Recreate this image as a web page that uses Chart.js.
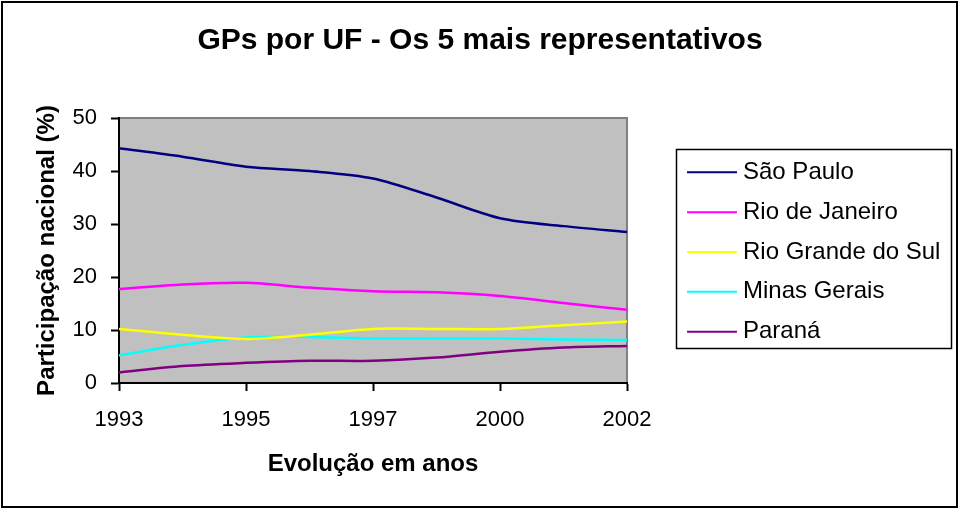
<!DOCTYPE html>
<html>
<head>
<meta charset="utf-8">
<script src="https://cdn.jsdelivr.net/npm/chart.js@4/dist/chart.umd.min.js"></script>
<style>
  html, body { margin: 0; padding: 0; background: #fff; }
  #wrap { width: 960px; height: 512px; position: relative; }
</style>
</head>
<body>
<div id="wrap"><canvas id="c" width="960" height="512"></canvas></div>
<script>
const chartTitle = 'GPs por UF - Os 5 mais representativos';
const years = ['1993', '1994', '1995', '1996', '1997', '1998', '2000', '2001', '2002'];
const shownYears = ['1993', '1995', '1997', '2000', '2002'];
const seriesNames = ['São Paulo', 'Rio de Janeiro', 'Rio Grande do Sul', 'Minas Gerais', 'Paraná'];
const saoPaulo      = [44.3, 42.7, 40.8, 40.0, 38.6, 35.0, 31.1, 29.6, 28.5];
const rioDeJaneiro  = [17.7, 18.6, 18.9, 18.0, 17.3, 17.1, 16.4, 15.1, 13.8];
const rioGrandeSul  = [10.2, 9.1, 8.3, 9.1, 10.2, 10.2, 10.2, 10.9, 11.6];
const minasGerais   = [5.2, 7.2, 8.6, 8.7, 8.4, 8.4, 8.4, 8.2, 8.1];
const parana        = [2.0, 3.2, 3.8, 4.2, 4.2, 4.8, 5.9, 6.7, 7.0];
const yTicks = [0, 10, 20, 30, 40, 50];
const colors = ['#000080', '#ff00ff', '#ffff00', '#00ffff', '#800080'];

const FONT = "'Liberation Sans', Arial, sans-serif";

const bgPlugin = {
  id: 'bg',
  beforeDraw(chart) {
    const { ctx, chartArea: a } = chart;
    ctx.save();
    ctx.fillStyle = '#ffffff';
    ctx.fillRect(0, 0, chart.width, chart.height);
    ctx.fillStyle = '#c0c0c0';
    ctx.fillRect(a.left, a.top, a.right - a.left, a.bottom - a.top);
    ctx.strokeStyle = '#808080';
    ctx.lineWidth = 2;
    ctx.beginPath();
    ctx.moveTo(a.left, a.top);
    ctx.lineTo(a.right, a.top);
    ctx.lineTo(a.right, a.bottom);
    ctx.stroke();
    ctx.restore();
  },
  afterDraw(chart) {
    const { ctx } = chart;
    ctx.save();
    // outer frame
    ctx.strokeStyle = '#000';
    ctx.lineWidth = 2;
    ctx.strokeRect(2, 2, 955, 505);
    // chart title
    ctx.fillStyle = '#000';
    ctx.font = 'bold 30px ' + FONT;
    ctx.textAlign = 'center';
    ctx.textBaseline = 'alphabetic';
    ctx.fillText(chartTitle, 480, 49);
    // legend
    const lx = 676, ly = 149, lw = 275, lh = 199;
    ctx.lineWidth = 1.5;
    ctx.strokeRect(lx + 0.5, ly + 0.5, lw, lh);
    ctx.font = '24px ' + FONT;
    ctx.textAlign = 'left';
    ctx.textBaseline = 'middle';
    chart.data.datasets.forEach((ds, i) => {
      const y = 172.3 + i * 39.85;
      ctx.strokeStyle = ds.borderColor;
      ctx.lineWidth = 2;
      ctx.beginPath();
      ctx.moveTo(687, y);
      ctx.lineTo(737, y);
      ctx.stroke();
      ctx.fillText(ds.label, 743, y);
    });
    ctx.restore();
  }
};

const seriesData = [saoPaulo, rioDeJaneiro, rioGrandeSul, minasGerais, parana];

new Chart(document.getElementById('c'), {
  type: 'line',
  data: {
    labels: years,
    datasets: seriesNames.map((name, i) => ({
      label: name,
      data: seriesData[i],
      borderColor: colors[i],
      backgroundColor: colors[i],
      borderWidth: 2.5,
      pointRadius: 0,
      tension: 0.3,
      fill: false
    }))
  },
  options: {
    responsive: false,
    animation: false,
    layout: { padding: { left: 0, right: 333, top: 118, bottom: 0 } },
    plugins: {
      legend: { display: false },
      tooltip: { enabled: false },
      title: { display: false }
    },
    scales: {
      x: {
        type: 'category',
        offset: false,
        border: { color: '#000', width: 2 },
        grid: {
          drawOnChartArea: false,
          tickLength: 8,
          tickWidth: 2,
          tickColor: (c) => shownYears.includes(years[c.index]) ? '#000' : 'rgba(0,0,0,0)'
        },
        ticks: {
          autoSkip: false,
          maxRotation: 0,
          color: '#000',
          padding: 16,
          font: { family: FONT, size: 22 },
          callback: function (v, i) { const l = years[i]; return shownYears.includes(l) ? l : ''; }
        },
        title: {
          display: true,
          text: 'Evolução em anos',
          color: '#000',
          font: { family: FONT, size: 24, weight: 'bold' },
          padding: { top: 0, bottom: 33 }
        },
        afterFit(scale) { scale.height = 129; }
      },
      y: {
        min: 0,
        max: 50,
        border: { color: '#000', width: 2 },
        grid: { drawOnChartArea: false, tickLength: 8, tickWidth: 2, tickColor: '#000' },
        afterBuildTicks(scale) { scale.ticks = yTicks.map(v => ({ value: v })); },
        ticks: {
          color: '#000',
          padding: 14,
          font: { family: FONT, size: 22 }
        },
        title: {
          display: true,
          text: 'Participação nacional (%)',
          color: '#000',
          font: { family: FONT, size: 24, weight: 'bold' },
          padding: { top: 33, bottom: 0 }
        },
        afterFit(scale) { scale.width = 119; }
      }
    }
  },
  plugins: [bgPlugin]
});
</script>
</body>
</html>
